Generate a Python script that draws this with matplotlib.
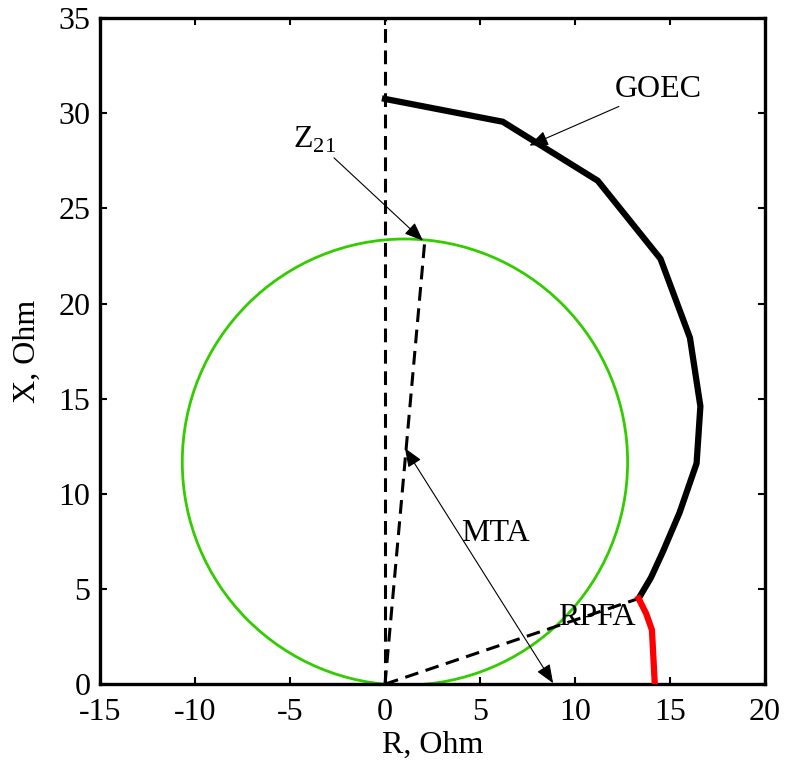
import matplotlib
matplotlib.use("Agg")
import matplotlib.pyplot as plt
from matplotlib.patches import Circle

plt.rcParams['font.family'] = ['Liberation Serif', 'DejaVu Serif']
plt.rcParams['mathtext.fontset'] = 'custom'
plt.rcParams['mathtext.rm'] = 'Liberation Serif'
plt.rcParams['axes.unicode_minus'] = False

# GOEC boundary (R, X), Ohm
goec_r = [0.0, 6.2, 11.2, 14.5, 16.05, 16.6, 16.4, 15.5, 14.6, 14.0, 13.35]
goec_x = [30.75, 29.55, 26.45, 22.35, 18.2, 14.6, 11.6, 9.0, 6.9, 5.6, 4.5]

# RPFA segment
rpfa_r = [13.35, 13.75, 14.05, 14.2]
rpfa_x = [4.5, 3.7, 2.85, 0.0]

# Z21 vector and mho circle (diameter = Z21)
z21 = (2.1, 23.35)
circle_center = (1.05, 11.67)
circle_radius = 11.72

# line from origin to GOEC/RPFA junction
junction = (13.35, 4.5)

fig = plt.figure(figsize=(7.85, 7.67), dpi=100)
ax = fig.add_axes([0.1274, 0.108, 0.8471, 0.8685])

ax.add_patch(Circle(circle_center, circle_radius, fill=False,
                    edgecolor='#33cc00', lw=2.0, zorder=2))

dash = (0, (4.5, 2.5))
ax.plot([0, 0], [0, 35], color='k', lw=2.2, linestyle=dash, zorder=3)
ax.plot([0, z21[0]], [0, z21[1]], color='k', lw=2.2, linestyle=dash, zorder=3)
ax.plot([0, junction[0]], [0, junction[1]], color='k', lw=2.2, linestyle=dash, zorder=3)

ax.plot(goec_r, goec_x, color='k', lw=4.5, solid_joinstyle='miter', zorder=4)
ax.plot(rpfa_r, rpfa_x, color='#ff0000', lw=4.5, zorder=4)

fs = 23
arrow = dict(arrowstyle='-|>,head_length=0.5,head_width=0.2', color='k',
             lw=0.8, shrinkA=0, shrinkB=0, mutation_scale=fs)
ax.annotate('GOEC', xy=(7.6, 28.3), xytext=(12.1, 30.5), fontsize=fs,
            arrowprops=arrow, ha='left', va='bottom')
ax.annotate('Z$_{21}$', xy=(2.0, 23.3), xytext=(-3.7, 27.8), fontsize=fs,
            arrowprops=arrow, ha='center', va='bottom')
darrow = dict(arrowstyle='<|-|>,head_length=0.5,head_width=0.2', color='k',
              lw=0.8, shrinkA=0, shrinkB=0, mutation_scale=fs)
ax.annotate('', xy=(1.05, 12.4), xytext=(8.85, 0.05), arrowprops=darrow)
ax.text(4.0, 7.9, 'MTA', fontsize=fs, ha='left', va='center')
ax.text(9.1, 3.5, 'RPFA', fontsize=fs, ha='left', va='center')

ax.set_xlim(-15, 20)
ax.set_ylim(0, 35)
ax.set_xticks(range(-15, 21, 5))
ax.set_yticks(range(0, 36, 5))
ax.tick_params(direction='in', length=5, width=1.5, labelsize=fs,
               top=True, right=True, pad=7)
ax.tick_params(axis='x', pad=10)
for s in ax.spines.values():
    s.set_linewidth(2.4)
ax.set_xlabel('R, Ohm', fontsize=fs, labelpad=3)
ax.set_ylabel('X, Ohm', fontsize=fs, labelpad=12)

fig.savefig('out.png', dpi=100)
